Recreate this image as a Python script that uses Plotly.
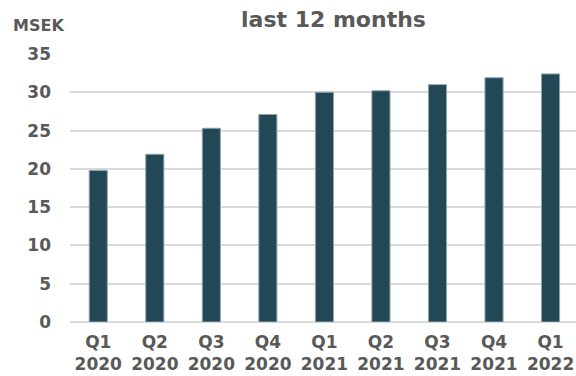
import plotly.graph_objects as go

quarters = ["Q1<br>2020", "Q2<br>2020", "Q3<br>2020", "Q4<br>2020", "Q1<br>2021",
            "Q2<br>2021", "Q3<br>2021", "Q4<br>2021", "Q1<br>2022"]
values = [19.8, 21.9, 25.3, 27.1, 30.0, 30.2, 31.0, 31.9, 32.4]
y_ticks = [0, 5, 10, 15, 20, 25, 30, 35]

FONT = "DejaVu Sans"
GREY = "#595959"

fig = go.Figure(go.Bar(
    x=list(range(len(quarters))), y=values,
    marker=dict(color="#224755", line=dict(color="#8fa4ae", width=1)),
    width=0.32,
))

fig.update_layout(
    width=576, height=376,
    margin=dict(l=70, r=0, t=54, b=54),
    paper_bgcolor="white", plot_bgcolor="white",
    showlegend=False,
    font=dict(family=FONT, size=17, color=GREY, weight="bold"),
    xaxis=dict(
        range=[-0.5, 8.45], tickmode="array",
        tickvals=list(range(len(quarters))), ticktext=quarters,
        showgrid=False, showline=False, zeroline=False, ticks="",
        ticklabelstandoff=8, automargin=False,
        tickfont=dict(family=FONT, size=17, color=GREY, weight="bold"),
    ),
    yaxis=dict(
        range=[0, 35], tickvals=y_ticks, showgrid=True,
        gridcolor="#d9d9d9", gridwidth=2, zeroline=True,
        zerolinecolor="#d9d9d9", zerolinewidth=2, showline=False,
        ticks="", ticklabelstandoff=18, automargin=False,
        tickfont=dict(family=FONT, size=17, color=GREY, weight="bold"),
    ),
    annotations=[
        dict(text="last 12 months", x=333, y=20, xref="paper", yref="paper",
             xanchor="center", yanchor="middle",
             showarrow=False, font=dict(family=FONT, size=22, color=GREY, weight="bold")),
        dict(text="MSEK", x=11, y=25, xref="paper", yref="paper",
             xanchor="left", yanchor="middle",
             showarrow=False, font=dict(family=FONT, size=16, color=GREY, weight="bold")),
    ],
)

# convert pixel positions of annotations to paper coords
pw = 576 - 70 - 0
ph = 376 - 54 - 54
for a in fig.layout.annotations:
    px, py = a.x, a.y
    a.x = (px - 70) / pw
    a.y = (376 - 54 - py) / ph

fig.write_html("out.html")
